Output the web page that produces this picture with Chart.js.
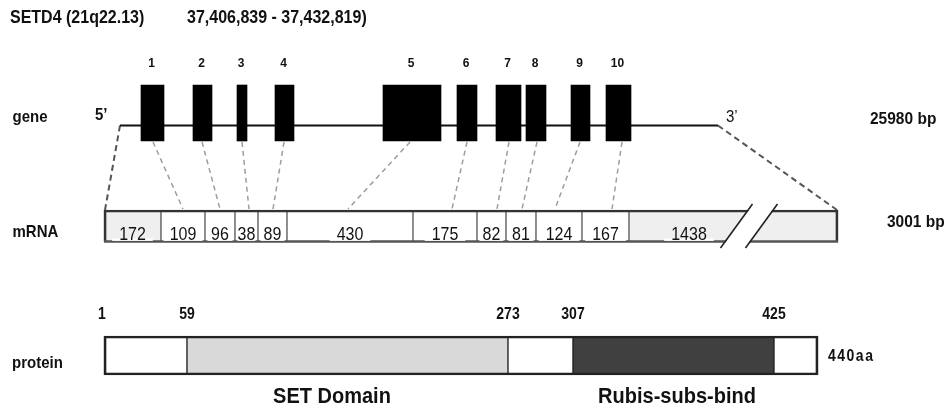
<!DOCTYPE html>
<html>
<head>
<meta charset="utf-8">
<script src="https://cdn.jsdelivr.net/npm/chart.js@4/dist/chart.umd.min.js"></script>
<style>
  html, body { margin: 0; padding: 0; background: #fff; }
  #wrap { width: 952px; height: 414px; }
</style>
</head>
<body>
<div id="wrap"><canvas id="diagram" width="952" height="414"></canvas></div>
<script>
// gene track: exon spans along the schematic x axis
const exonNumbers    = ["1", "2", "3", "4", "5", "6", "7", "8", "9", "10"];
const exonStart      = [141, 193, 237, 275, 383, 457, 496, 526, 571, 606];
const exonEnd        = [164, 212, 247, 294, 441, 477, 521, 546, 590, 631];
const geneSpan       = [120, 718];
const exonLinkTop    = [153, 202, 242, 284, 410, 467, 509, 537, 580, 622];
const exonLinkBottom = [183, 220, 249, 273, 348, 452, 497, 522, 555, 612];

// mRNA track
const mrnaBounds  = [104, 161, 205, 235, 258, 287, 413, 477, 506, 536, 582, 629, 838];
const mrnaLengths = ["172", "109", "96", "38", "89", "430", "175", "82", "81", "124", "167", "1438"];
const mrnaShaded  = [true, false, false, false, false, false, false, false, false, false, false, true];
const mrnaBreak   = 749;

// protein track
const proteinBounds = [104, 187, 508, 573, 774, 818];
const proteinTicks  = ["1", "59", "273", "307", "425"];
const proteinFill   = ["#ffffff", "#d9d9d9", "#ffffff", "#404040", "#ffffff"];

// row layout (y, top to bottom)
const ROW = { exon: 113, line: 125.5, linkTop: 142, mrnaTop: 210, mrna: 226, mrnaBottom: 241.5, protein: 355.5 };
const FONT = "'Liberation Sans', Arial, sans-serif";

const barBase = { type: "bar", indexAxis: "y", grouped: false, categoryPercentage: 1, barPercentage: 1, borderSkipped: false };
const seg = (a, b, color, width, dash, order) => ({
  type: "line", indexAxis: "x", data: [a, b], borderColor: color, borderWidth: width,
  borderDash: dash || [], pointRadius: 0, fill: false, tension: 0, order: order
});

const datasets = [];

// exons
datasets.push({ ...barBase, order: 2, maxBarThickness: 56, backgroundColor: "#000", borderWidth: 0,
  data: exonStart.map((s, i) => ({ x: [s, exonEnd[i]], y: ROW.exon })) });
// intron line
datasets.push(seg({ x: geneSpan[0], y: ROW.line }, { x: geneSpan[1], y: ROW.line }, "#111", 2, null, 6));
// exon -> mRNA links
exonLinkTop.forEach((t, i) => {
  datasets.push(seg({ x: t, y: ROW.linkTop }, { x: exonLinkBottom[i], y: ROW.mrnaTop - 1 }, "#9d9d9d", 1.5, [5, 4], 7));
});
datasets.push(seg({ x: geneSpan[0], y: ROW.line }, { x: mrnaBounds[0] + 1, y: ROW.mrnaTop }, "#555", 2, [6, 4], 7));
datasets.push(seg({ x: geneSpan[1], y: ROW.line }, { x: mrnaBounds[mrnaBounds.length - 1] - 1, y: ROW.mrnaTop }, "#555", 2, [6, 4], 7));

// mRNA cells
datasets.push({ ...barBase, order: 5, maxBarThickness: 32,
  backgroundColor: mrnaShaded.map(s => s ? "#efefef" : "#ffffff"),
  borderColor: "#5a5a5a", borderWidth: { top: 0, bottom: 0, left: 1, right: 1 },
  data: mrnaLengths.map((_, i) => ({ x: [mrnaBounds[i], mrnaBounds[i + 1]], y: ROW.mrna })) });
datasets.push({ ...barBase, order: 4, maxBarThickness: 32, backgroundColor: "rgba(0,0,0,0)",
  borderColor: "#333", borderWidth: { top: 2, bottom: 0, left: 2, right: 2 },
  data: [{ x: [mrnaBounds[0], mrnaBounds[mrnaBounds.length - 1]], y: ROW.mrna }] });
datasets.push(seg({ x: mrnaBounds[0], y: ROW.mrnaBottom }, { x: mrnaBounds[mrnaBounds.length - 1], y: ROW.mrnaBottom }, "#555", 2.5, null, 3));

// break marks
const slope = 0.727;
datasets.push(seg({ x: mrnaBreak - 30 * slope, y: ROW.mrna + 30 }, { x: mrnaBreak + 30 * slope, y: ROW.mrna - 30 }, "#ffffff", 19, null, 1));
[-12.5, 12.5].forEach(off => {
  const cx = mrnaBreak + off;
  datasets.push(seg({ x: cx - 22 * slope, y: ROW.mrna + 22 }, { x: cx + 22 * slope, y: ROW.mrna - 22 }, "#222", 1.6, null, 0));
});

// protein
datasets.push({ ...barBase, order: 5, maxBarThickness: 39,
  backgroundColor: proteinFill, borderColor: "#222", borderWidth: { top: 0, bottom: 0, left: 1, right: 1 },
  data: proteinFill.map((_, i) => ({ x: [proteinBounds[i], proteinBounds[i + 1]], y: ROW.protein })) });
datasets.push({ ...barBase, order: 4, maxBarThickness: 39, backgroundColor: "rgba(0,0,0,0)",
  borderColor: "#222", borderWidth: 2,
  data: [{ x: [proteinBounds[0], proteinBounds[proteinBounds.length - 1]], y: ROW.protein }] });

function drawText(ctx, str, x, y, font, align, color, stretch, spacing) {
  ctx.save();
  ctx.font = font;
  ctx.fillStyle = color || "#111";
  ctx.textAlign = align || "left";
  ctx.textBaseline = "alphabetic";
  if (spacing) ctx.letterSpacing = spacing;
  ctx.translate(x, y);
  ctx.scale(1, stretch || 1.12);
  ctx.fillText(str, 0, 0);
  ctx.restore();
}

const labels = {
  id: "labels",
  afterDatasetsDraw(chart) {
    const ctx = chart.ctx;
    const X = v => chart.scales.x.getPixelForValue(v);
    const Y = v => chart.scales.y.getPixelForValue(v);
    const B = "bold ";

    drawText(ctx, "SETD4 (21q22.13)", 10, 23, B + "16px " + FONT);
    drawText(ctx, "37,406,839 - 37,432,819)", 187, 23, B + "16px " + FONT);

    drawText(ctx, "gene", 12.5, 122, B + "15px " + FONT);
    drawText(ctx, "mRNA", 12.5, 237, B + "15px " + FONT);
    drawText(ctx, "protein", 12, 368, B + "15px " + FONT);

    drawText(ctx, "5\u2019", 95, 120, B + "15px " + FONT);
    drawText(ctx, "3\u2019", 726, 121.5, "15px " + FONT);
    drawText(ctx, "25980 bp", 870, 124, B + "15.5px " + FONT);
    drawText(ctx, "3001 bp", 887, 227, B + "15.5px " + FONT);
    drawText(ctx, "440aa", 828, 361, B + "14px " + FONT, "left", "#111", 1.12, "1.5px");

    exonNumbers.forEach((n, i) => {
      drawText(ctx, n, X((exonStart[i] + exonEnd[i]) / 2) - 1, 67, B + "12px " + FONT, "center");
    });

    const mFont = "16px " + FONT;
    mrnaLengths.forEach((n, i) => {
      const left = mrnaBounds[i];
      const right = i === mrnaLengths.length - 1 ? mrnaBreak : mrnaBounds[i + 1];
      const cx = X((left + right) / 2);
      ctx.font = mFont;
      const w = ctx.measureText(n).width;
      const cellW = X(mrnaBounds[i + 1]) - X(left);
      const gap = Math.min(w + 14, cellW - 5);
      ctx.fillStyle = "#fff";
      ctx.fillRect(cx - gap / 2, Y(ROW.mrnaBottom) - 3, gap, 2.4);
      drawText(ctx, n, cx, 240, mFont, "center", "#111", 1.2);
    });

    proteinTicks.forEach((t, i) => {
      drawText(ctx, t, X(proteinBounds[i]) - (i === 0 ? 2 : 0), 319, B + "14px " + FONT, "center");
    });

    drawText(ctx, "SET Domain", 332, 403, B + "20px " + FONT, "center");
    drawText(ctx, "Rubis-subs-bind", 677, 403, B + "20px " + FONT, "center");
  }
};

new Chart(document.getElementById("diagram"), {
  type: "bar",
  data: { datasets },
  options: {
    responsive: false,
    devicePixelRatio: 1,
    animation: false,
    events: [],
    layout: { padding: 0 },
    plugins: { legend: { display: false }, tooltip: { enabled: false }, title: { display: false } },
    scales: {
      x: { type: "linear", min: 0, max: 952, offset: false, display: false, ticks: { stepSize: 952 } },
      y: { type: "linear", min: 0, max: 414, offset: false, reverse: true, display: false, ticks: { stepSize: 414 } }
    }
  },
  plugins: [labels]
});
</script>
</body>
</html>
